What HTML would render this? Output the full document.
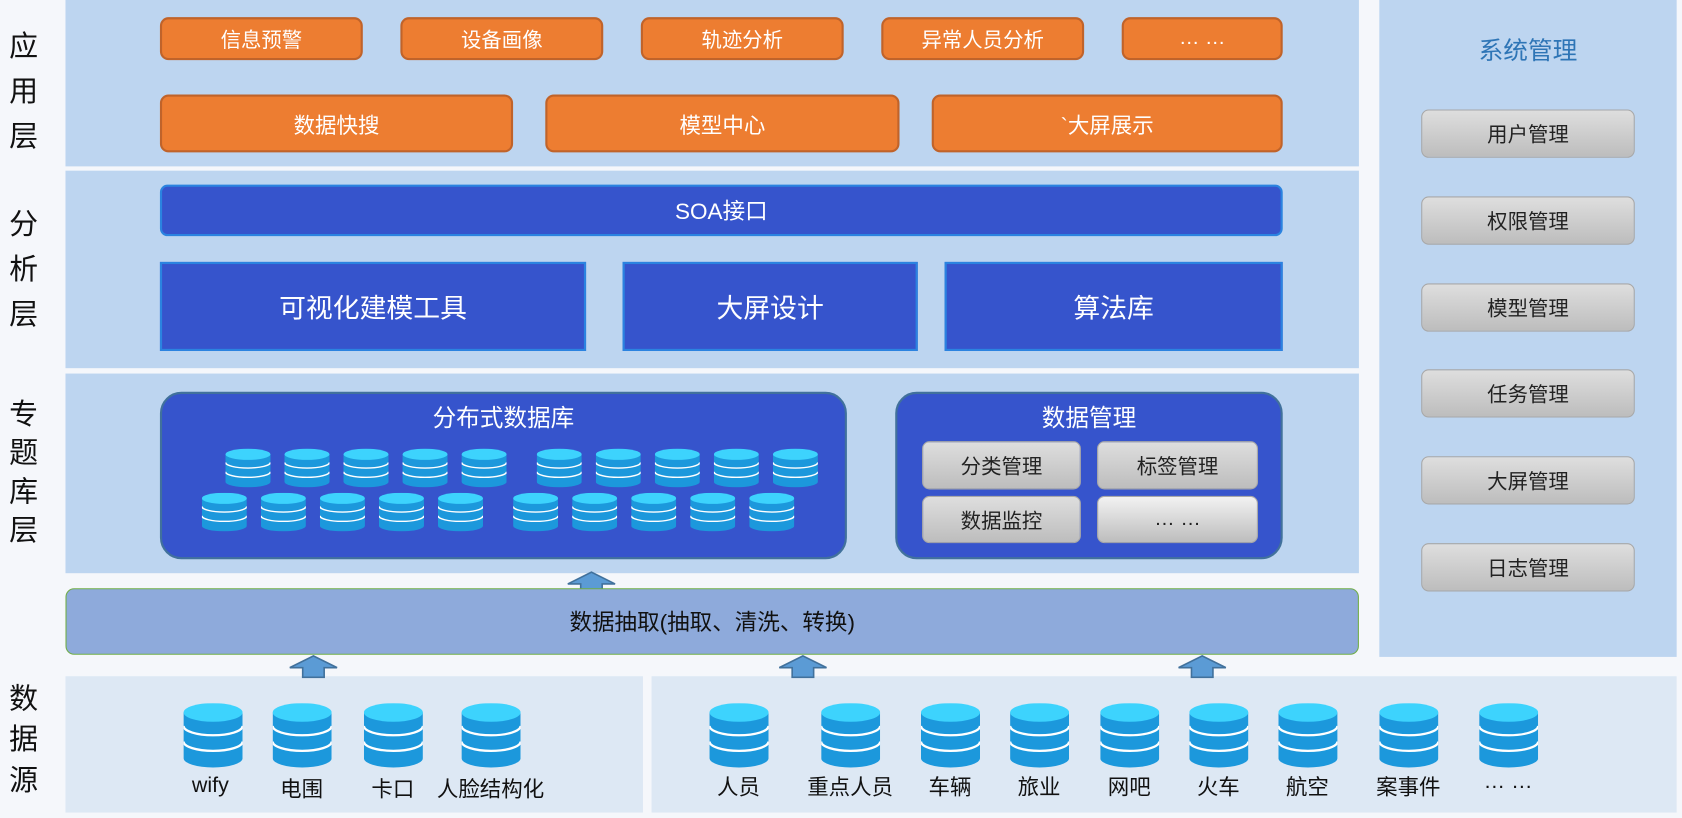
<!DOCTYPE html>
<html><head><meta charset="utf-8"><style>
*{margin:0;padding:0;box-sizing:border-box}
html,body{width:1682px;height:818px;overflow:hidden;background:#f5f7fb;font-family:"Liberation Sans","Noto Sans CJK SC",sans-serif}
#w{position:absolute;left:0;top:0;width:1567px;height:762px;transform:scale(1.0734);transform-origin:0 0}
.a{position:absolute}
.c{display:flex;align-items:center;justify-content:center;text-align:center}
.bg{background:#bdd5f0}
.or{background:#ed7d31;border:2px solid #c0632a;border-radius:8px;color:#fff;font-size:19px}
.bl{background:#3654cc;color:#fff}
.gr{background:linear-gradient(#dedede,#bdbdbd);border:1px solid #a8a8a8;border-radius:7px;color:#222;font-size:19px}
.lab{font-size:27px;line-height:42px;width:40px;text-align:center;color:#111}
svg.cy{position:absolute}
.sl{position:absolute;font-size:20px;color:#111;width:100px;text-align:center}
</style></head><body>
<svg width="0" height="0" style="position:absolute"><defs>
<symbol id="cy" viewBox="0 0 54 62" preserveAspectRatio="none">
<path d="M0 9 V53 A27 9 0 0 0 54 53 V9 Z" fill="#1c98dc"/>
<ellipse cx="27" cy="9" rx="27" ry="9" fill="#3dd3fd"/>
<path d="M0 22 A27 9 0 0 0 54 22 M0 37 A27 9 0 0 0 54 37" stroke="#fff" stroke-width="2.2" fill="none"/>
</symbol>
<symbol id="ar" viewBox="0 0 46 22"><path d="M1 12 L23 1 L45 12 L33 12 L33 21 L13 21 L13 12 Z" fill="#5b9bd5" stroke="#41719c" stroke-width="1.5"/></symbol>
</defs></svg>
<div id="w">
<!-- left labels -->
<div class="a lab" style="left:2px;top:22px">应<br>用<br>层</div>
<div class="a lab" style="left:2px;top:188px">分<br>析<br>层</div>
<div class="a lab" style="left:2px;top:368px;line-height:36px">专<br>题<br>库<br>层</div>
<div class="a lab" style="left:2px;top:632px;line-height:38px">数<br>据<br>源</div>

<div class="a bg" style="left:61px;top:0;width:1205px;height:155px"></div>
<div class="a bg" style="left:61px;top:159px;width:1205px;height:184px"></div>
<div class="a bg" style="left:61px;top:348px;width:1205px;height:186px"></div>
<div class="a bg" style="left:1285px;top:0;width:277px;height:612px"></div>
<div class="a" style="left:61px;top:630px;width:538px;height:127px;background:#dde8f4"></div>
<div class="a" style="left:607px;top:630px;width:955px;height:127px;background:#dde8f4"></div>

<!-- app -->
<div class="a c or" style="left:149px;top:16px;width:189px;height:40px">信息预警</div>
<div class="a c or" style="left:373px;top:16px;width:189px;height:40px">设备画像</div>
<div class="a c or" style="left:597px;top:16px;width:189px;height:40px">轨迹分析</div>
<div class="a c or" style="left:821px;top:16px;width:189px;height:40px">异常人员分析</div>
<div class="a c or" style="left:1045px;top:16px;width:150px;height:40px">… …</div>
<div class="a c or" style="left:149px;top:88px;width:329px;height:54px;font-size:20px">数据快搜</div>
<div class="a c or" style="left:508px;top:88px;width:330px;height:54px;font-size:20px">模型中心</div>
<div class="a c or" style="left:868px;top:88px;width:327px;height:54px;font-size:20px">`大屏展示</div>

<!-- analysis -->
<div class="a c bl" style="left:149px;top:172px;width:1046px;height:48px;border:2px solid #2b83e0;border-radius:7px;font-size:21px">SOA接口</div>
<div class="a c bl" style="left:149px;top:244px;width:397px;height:83px;border:2px solid #2b83e0;font-size:25px">可视化建模工具</div>
<div class="a c bl" style="left:580px;top:244px;width:275px;height:83px;border:2px solid #2b83e0;font-size:25px">大屏设计</div>
<div class="a c bl" style="left:880px;top:244px;width:315px;height:83px;border:2px solid #2b83e0;font-size:25px">算法库</div>

<!-- topic -->
<div class="a bl" style="left:149px;top:365px;width:640px;height:156px;border:2px solid #41719c;border-radius:20px">
<div style="text-align:center;font-size:22px;margin-top:5px">分布式数据库</div></div>
<svg class="cy" style="left:210px;top:418px" width="42" height="36"><use href="#cy"/></svg>
<svg class="cy" style="left:265px;top:418px" width="42" height="36"><use href="#cy"/></svg>
<svg class="cy" style="left:320px;top:418px" width="42" height="36"><use href="#cy"/></svg>
<svg class="cy" style="left:375px;top:418px" width="42" height="36"><use href="#cy"/></svg>
<svg class="cy" style="left:430px;top:418px" width="42" height="36"><use href="#cy"/></svg>
<svg class="cy" style="left:500px;top:418px" width="42" height="36"><use href="#cy"/></svg>
<svg class="cy" style="left:555px;top:418px" width="42" height="36"><use href="#cy"/></svg>
<svg class="cy" style="left:610px;top:418px" width="42" height="36"><use href="#cy"/></svg>
<svg class="cy" style="left:665px;top:418px" width="42" height="36"><use href="#cy"/></svg>
<svg class="cy" style="left:720px;top:418px" width="42" height="36"><use href="#cy"/></svg>
<svg class="cy" style="left:188px;top:459px" width="42" height="36"><use href="#cy"/></svg>
<svg class="cy" style="left:243px;top:459px" width="42" height="36"><use href="#cy"/></svg>
<svg class="cy" style="left:298px;top:459px" width="42" height="36"><use href="#cy"/></svg>
<svg class="cy" style="left:353px;top:459px" width="42" height="36"><use href="#cy"/></svg>
<svg class="cy" style="left:408px;top:459px" width="42" height="36"><use href="#cy"/></svg>
<svg class="cy" style="left:478px;top:459px" width="42" height="36"><use href="#cy"/></svg>
<svg class="cy" style="left:533px;top:459px" width="42" height="36"><use href="#cy"/></svg>
<svg class="cy" style="left:588px;top:459px" width="42" height="36"><use href="#cy"/></svg>
<svg class="cy" style="left:643px;top:459px" width="42" height="36"><use href="#cy"/></svg>
<svg class="cy" style="left:698px;top:459px" width="42" height="36"><use href="#cy"/></svg>

<div class="a bl" style="left:834px;top:365px;width:361px;height:156px;border:2px solid #41719c;border-radius:20px">
<div style="text-align:center;font-size:22px;margin-top:5px">数据管理</div></div>
<div class="a c gr" style="left:859px;top:411px;width:148px;height:45px">分类管理</div>
<div class="a c gr" style="left:1022px;top:411px;width:150px;height:45px">标签管理</div>
<div class="a c gr" style="left:859px;top:462px;width:148px;height:44px">数据监控</div>
<div class="a c gr" style="left:1022px;top:462px;width:150px;height:44px;background:linear-gradient(#f2f2f2,#bdbdbd)">… …</div>

<!-- extract -->
<svg class="a" style="left:528px;top:532px" width="46" height="22"><use href="#ar"/></svg>
<div class="a c" style="left:61px;top:548px;width:1205px;height:62px;background:#8eaadb;border:1px solid #70ad47;border-radius:8px;font-size:21px;color:#111">数据抽取(抽取、清洗、转换)</div>
<svg class="a" style="left:269px;top:610px" width="46" height="22"><use href="#ar"/></svg>
<svg class="a" style="left:725px;top:610px" width="46" height="22"><use href="#ar"/></svg>
<svg class="a" style="left:1097px;top:610px" width="46" height="22"><use href="#ar"/></svg>

<!-- sources -->
<svg class="cy" style="left:171px;top:655px" width="55" height="60"><use href="#cy"/></svg>
<svg class="cy" style="left:254px;top:655px" width="55" height="60"><use href="#cy"/></svg>
<svg class="cy" style="left:339px;top:655px" width="55" height="60"><use href="#cy"/></svg>
<svg class="cy" style="left:430px;top:655px" width="55" height="60"><use href="#cy"/></svg>
<div class="sl" style="left:146px;top:721px">wify</div>
<div class="sl" style="left:231px;top:719px">电围</div>
<div class="sl" style="left:316px;top:719px">卡口</div>
<div class="sl" style="left:397px;top:719px;width:120px">人脸结构化</div>

<svg class="cy" style="left:661px;top:655px" width="55" height="60"><use href="#cy"/></svg>
<svg class="cy" style="left:765px;top:655px" width="55" height="60"><use href="#cy"/></svg>
<svg class="cy" style="left:858px;top:655px" width="55" height="60"><use href="#cy"/></svg>
<svg class="cy" style="left:941px;top:655px" width="55" height="60"><use href="#cy"/></svg>
<svg class="cy" style="left:1025px;top:655px" width="55" height="60"><use href="#cy"/></svg>
<svg class="cy" style="left:1108px;top:655px" width="55" height="60"><use href="#cy"/></svg>
<svg class="cy" style="left:1191px;top:655px" width="55" height="60"><use href="#cy"/></svg>
<svg class="cy" style="left:1285px;top:655px" width="55" height="60"><use href="#cy"/></svg>
<svg class="cy" style="left:1378px;top:655px" width="55" height="60"><use href="#cy"/></svg>
<div class="sl" style="left:638px;top:717px">人员</div>
<div class="sl" style="left:742px;top:717px">重点人员</div>
<div class="sl" style="left:835px;top:717px">车辆</div>
<div class="sl" style="left:918px;top:717px">旅业</div>
<div class="sl" style="left:1002px;top:717px">网吧</div>
<div class="sl" style="left:1085px;top:717px">火车</div>
<div class="sl" style="left:1168px;top:717px">航空</div>
<div class="sl" style="left:1262px;top:717px">案事件</div>
<div class="sl" style="left:1355px;top:717px">… …</div>

<!-- system mgmt -->
<div class="a" style="left:1285px;top:28px;width:277px;text-align:center;font-size:23px;color:#2e75b6">系统管理</div>
<div class="a c gr" style="left:1324px;top:102px;width:199px;height:45px">用户管理</div>
<div class="a c gr" style="left:1324px;top:183px;width:199px;height:45px">权限管理</div>
<div class="a c gr" style="left:1324px;top:264px;width:199px;height:45px">模型管理</div>
<div class="a c gr" style="left:1324px;top:344px;width:199px;height:45px">任务管理</div>
<div class="a c gr" style="left:1324px;top:425px;width:199px;height:45px">大屏管理</div>
<div class="a c gr" style="left:1324px;top:506px;width:199px;height:45px">日志管理</div>
</div>
</body></html>
